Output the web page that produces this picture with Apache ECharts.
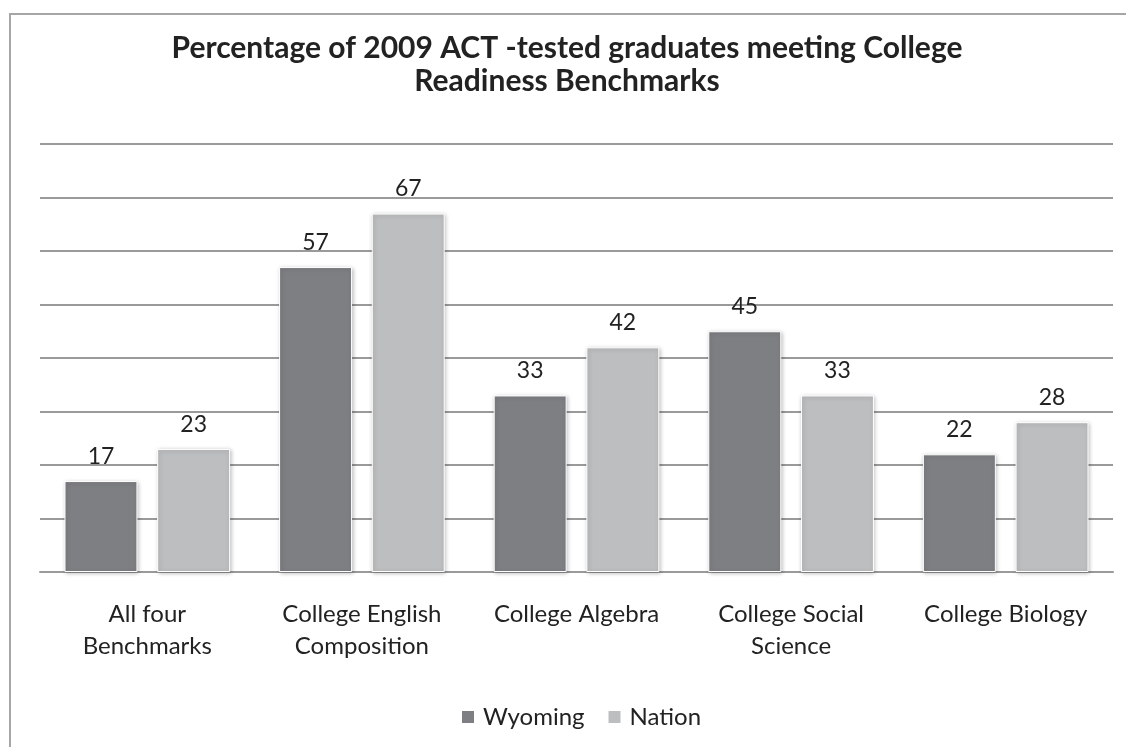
<!DOCTYPE html>
<html><head><meta charset="utf-8">
<script src="https://cdn.jsdelivr.net/npm/echarts@6/dist/echarts.min.js"></script>
<style>html,body{margin:0;padding:0;background:#fff}#frame{position:absolute;left:9px;top:13px;width:1130px;height:750px;border-left:2px solid #a6a6a6;border-top:2px solid #a6a6a6}#c{width:1126px;height:747px;position:absolute;left:0;top:0}</style>
</head><body><div id="frame"></div><div id="c"></div>
<script>
const categories = ["All four\nBenchmarks", "College English\nComposition", "College Algebra", "College Social\nScience", "College Biology"];
const wyoming = [17, 57, 33, 45, 22];
const nation = [23, 67, 42, 33, 28];
const yTicks = [0, 10, 20, 30, 40, 50, 60, 70, 80];

const chart = echarts.init(document.getElementById('c'));
const font = 'Lato, "Open Sans", sans-serif';
const barStyle = (c) => ({color: c, borderColor: '#ffffff', borderWidth: 1, shadowColor: 'rgba(0,0,0,0.25)', shadowBlur: 4, shadowOffsetX: 1, shadowOffsetY: 1});
const lbl = {show: true, position: 'top', distance: 13, fontFamily: font, fontSize: 23, color: '#222'};
chart.setOption({
  backgroundColor: 'transparent',
  animation: false,
  title: {
    text: 'Percentage of 2009 ACT -tested graduates meeting College\nReadiness Benchmarks',
    left: 562, top: 27, textAlign: 'center',
    textStyle: {fontFamily: font, fontWeight: 'bold', fontSize: 30, color: '#222', lineHeight: 33}
  },
  legend: {
    top: 700, left: 455, itemWidth: 14, itemHeight: 14, itemGap: 22,
    icon: 'rect',
    textStyle: {fontFamily: font, fontSize: 24, color: '#222', padding: [0, 0, 0, 3]},
    data: ['Wyoming', 'Nation']
  },
  grid: {left: 40, right: 13, top: 144, bottom: 175},
  xAxis: {
    type: 'category', data: categories,
    axisTick: {show: false},
    axisLine: {lineStyle: {color: '#9a9a9a', width: 2}},
    axisLabel: {fontFamily: font, fontSize: 24, color: '#222', lineHeight: 32, margin: 26, interval: 0}
  },
  yAxis: {
    type: 'value', min: yTicks[0], max: yTicks[yTicks.length - 1], interval: 10,
    axisLabel: {show: false}, axisLine: {show: false}, axisTick: {show: false},
    splitLine: {lineStyle: {color: '#9a9a9a', width: 2}}
  },
  series: [
    {name: 'Wyoming', type: 'bar', data: wyoming, barWidth: '34%', barGap: '27%',
     itemStyle: barStyle('#7e7f83'), label: lbl},
    {name: 'Nation', type: 'bar', data: nation, barWidth: '34%',
     itemStyle: barStyle('#bdbec0'), label: lbl}
  ]
});
</script></body></html>
